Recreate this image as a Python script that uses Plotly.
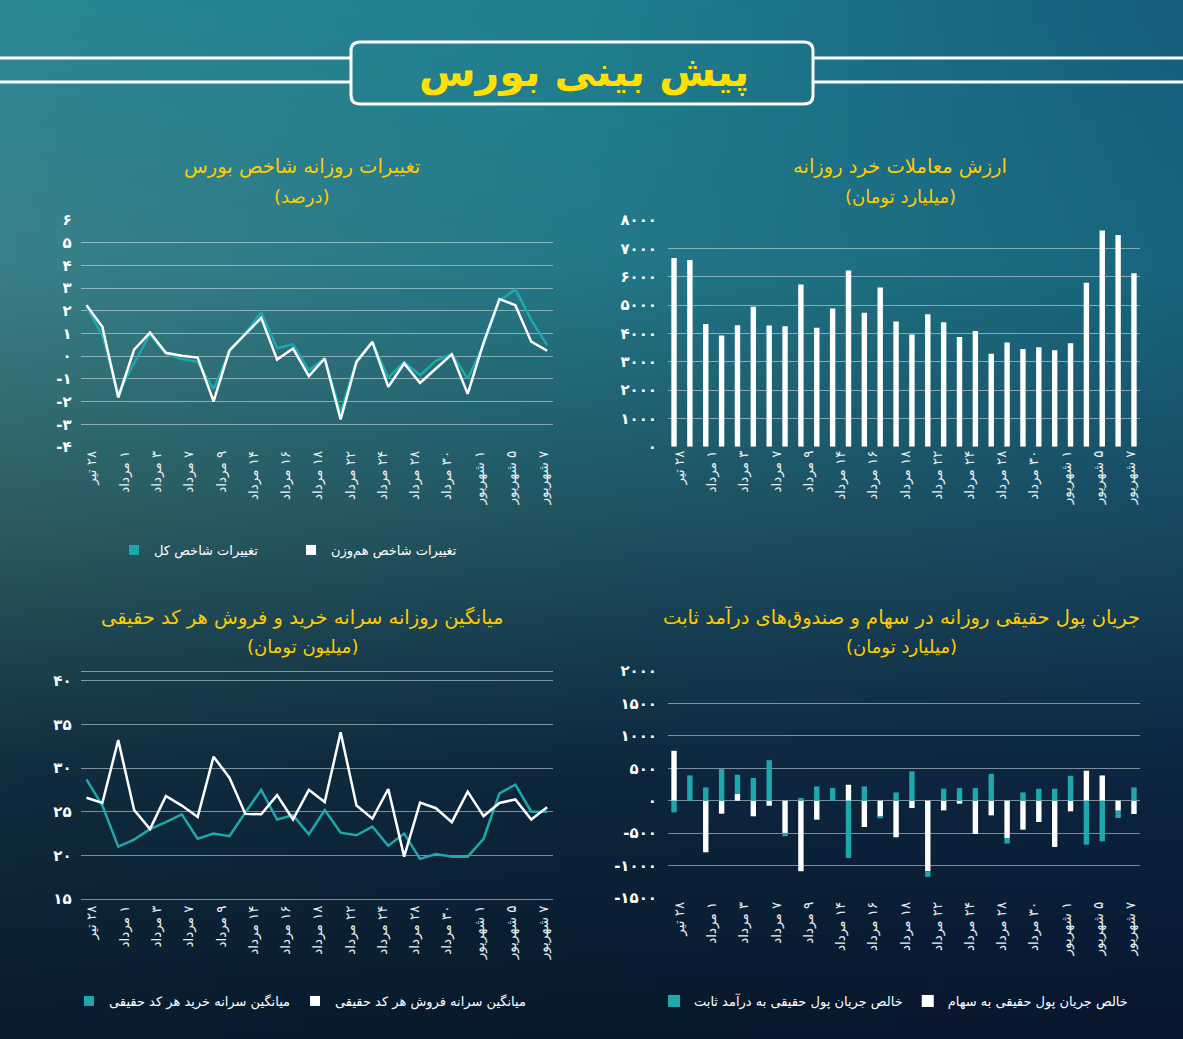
import base64
import struct
import zlib
import plotly.graph_objects as go

W, H = 1183, 1039
FONT = "DejaVu Sans"
TEAL = "#1FA8AC"
YELLOW = "#FFCB05"
GRID = "rgba(215,230,235,0.55)"

# ---------------- data ----------------
days = list(range(30))
tick_labels = ["۲۸ تیر", "۱ مرداد", "۳ مرداد", "۷ مرداد", "۹ مرداد", "۱۴ مرداد", "۱۶ مرداد",
               "۱۸ مرداد", "۲۲ مرداد", "۲۴ مرداد", "۲۸ مرداد", "۳۰ مرداد", "۱ شهریور",
               "۵ شهریور", "۷ شهریور"]

index_total = [2.18, 0.9, -1.65, -0.3, 0.95, 0.1, -0.12, -0.25, -1.45, 0.2, 1.0, 1.95, 0.35,
               0.53, -0.62, -0.1, -2.46, -0.2, 0.6, -0.94, -0.25, -0.84, -0.2, 0.1, -0.99,
               0.5, 2.45, 2.94, 1.6, 0.49]
index_equal = [2.25, 1.3, -1.82, 0.29, 1.04, 0.15, 0.02, -0.06, -1.99, 0.26, 0.97, 1.69, -0.15,
               0.34, -0.88, -0.1, -2.79, -0.25, 0.63, -1.35, -0.32, -1.18, -0.54, 0.08, -1.66,
               0.6, 2.52, 2.25, 0.64, 0.24]

retail_value = [6660, 6590, 4330, 3920, 4290, 4940, 4280, 4250, 5720, 4200, 4880, 6220, 4730,
                5620, 4420, 3960, 4670, 4390, 3870, 4080, 3280, 3680, 3450, 3510, 3400, 3650,
                5790, 7630, 7470, 6120]

buy_per_code = [28.7, 25.7, 21.0, 21.8, 23.0, 23.8, 24.7, 21.9, 22.5, 22.2, 24.9, 27.5, 24.1,
                24.6, 22.4, 25.2, 22.6, 22.3, 23.3, 21.1, 22.5, 19.6, 20.15, 19.85, 19.85, 21.9,
                27.1, 28.1, 25.0, 25.0]
sell_per_code = [26.6, 26.0, 33.2, 25.2, 23.0, 26.8, 25.7, 24.4, 31.3, 28.9, 24.75, 24.7, 26.9,
                 24.1, 27.5, 26.1, 34.1, 25.7, 24.2, 27.6, 19.85, 26.05, 25.4, 23.8, 27.3, 24.5,
                 26.0, 26.4, 24.1, 25.5]

flow_stocks = [770, 0, -795, -200, 108, -240, -77, -497, -1087, -292, 0, 246, -405, -250, -564,
               -113, -1087, -149, -46, -513, -226, -574, -446, -328, -713, -164, 462, 390, -154,
               -205]
flow_fixed = [-180, 390, 205, 487, 292, 350, 625, -51, 41, 220, 195, -882, 220, -20, 128, 451,
              -87, 185, 195, 195, 415, -87, 128, 185, 185, 385, -677, -626, -113, 205]

tl_ticks = [-4, -3, -2, -1, 0, 1, 2, 3, 4, 5, 6]
tr_ticks = [0, 1000, 2000, 3000, 4000, 5000, 6000, 7000, 8000]
bl_ticks = [15, 20, 25, 30, 35, 40]
br_ticks = [-1500, -1000, -500, 0, 500, 1000, 1500, 2000]

# ---------------- helpers ----------------
FA = str.maketrans("0123456789", "۰۱۲۳۴۵۶۷۸۹")


def fa(v):
    return str(v).translate(FA)


def rtl(s):
    return "\u202b" + s + "\u202c"


def xp(px):
    return px / W


def yp(py):
    return 1 - py / H


def hexrgb(h):
    h = h.lstrip("#")
    return tuple(int(h[i:i + 2], 16) for i in (0, 2, 4))


# background gradient picture (generated locally)
bg_rows_y = [0, 260, 520, 780, 1039]
bg_cols_x = [0, 590, 1183]
bg_grid = [
    ["#2A8794", "#1F7F8F", "#155E7C"],
    ["#3A8088", "#237888", "#17667E"],
    ["#2C5C60", "#1F5360", "#184A62"],
    ["#102C3E", "#0D263C", "#0C2440"],
    ["#0A1C2E", "#08182C", "#08162E"],
]


def interp(vals, pos, t):
    for k in range(len(pos) - 1):
        if pos[k] <= t <= pos[k + 1]:
            f = (t - pos[k]) / (pos[k + 1] - pos[k])
            return tuple(a + (b - a) * f for a, b in zip(vals[k], vals[k + 1]))
    return vals[-1]


def bg_pixel(px, py):
    cols = []
    for row in bg_grid:
        cols.append(interp([hexrgb(c) for c in row], bg_cols_x, px))
    c = interp(cols, bg_rows_y, py)
    return tuple(max(0, min(255, int(round(v)))) for v in c)


def make_png(w, h):
    raw = bytearray()
    for j in range(h):
        raw.append(0)
        for i in range(w):
            raw += bytes(bg_pixel(i * (W / (w - 1)), j * (H / (h - 1))))

    def chunk(t, d):
        c = struct.pack(">I", len(d)) + t + d
        return c + struct.pack(">I", zlib.crc32(t + d) & 0xFFFFFFFF)

    png = (b"\x89PNG\r\n\x1a\n"
           + chunk(b"IHDR", struct.pack(">IIBBBBB", w, h, 8, 2, 0, 0, 0))
           + chunk(b"IDAT", zlib.compress(bytes(raw), 9))
           + chunk(b"IEND", b""))
    return "data:image/png;base64," + base64.b64encode(png).decode()


bg_uri = make_png(120, 104)

# tick label positions across the category span
xtick_pos = [0.35 + i * (28.8 - 0.35) / 14 for i in range(len(tick_labels))]
xtick_txt = [rtl(t) for t in tick_labels]

fig = go.Figure()

# ---- top-left: index changes ----
fig.add_trace(go.Scatter(x=days, y=index_total, mode="lines", line=dict(color=TEAL, width=2.5),
                         xaxis="x", yaxis="y", showlegend=False, hoverinfo="skip"))
fig.add_trace(go.Scatter(x=days, y=index_equal, mode="lines", line=dict(color="white", width=2.5),
                         xaxis="x", yaxis="y", showlegend=False, hoverinfo="skip"))
fig.add_trace(go.Scatter(x=[None], y=[None], mode="markers", name="تغییرات شاخص کل",
                         marker=dict(symbol="square", size=10, color=TEAL), xaxis="x", yaxis="y",
                         legend="legend"))
fig.add_trace(go.Scatter(x=[None], y=[None], mode="markers", name="تغییرات شاخص هم‌وزن",
                         marker=dict(symbol="square", size=10, color="white"), xaxis="x", yaxis="y",
                         legend="legend"))

# ---- top-right: retail trade value ----
fig.add_trace(go.Bar(x=days, y=retail_value, marker=dict(color="white", line=dict(width=0)),
                     xaxis="x2", yaxis="y2", showlegend=False, hoverinfo="skip"))

# ---- bottom-left: per-code buy / sell ----
fig.add_trace(go.Scatter(x=days, y=buy_per_code, mode="lines", line=dict(color=TEAL, width=2.5),
                         xaxis="x3", yaxis="y3", showlegend=False, hoverinfo="skip"))
fig.add_trace(go.Scatter(x=days, y=sell_per_code, mode="lines", line=dict(color="white", width=2.5),
                         xaxis="x3", yaxis="y3", showlegend=False, hoverinfo="skip"))
fig.add_trace(go.Scatter(x=[None], y=[None], mode="markers", name="میانگین سرانه خرید هر کد حقیقی",
                         marker=dict(symbol="square", size=10, color=TEAL), xaxis="x3", yaxis="y3",
                         legend="legend2"))
fig.add_trace(go.Scatter(x=[None], y=[None], mode="markers", name="میانگین سرانه فروش هر کد حقیقی",
                         marker=dict(symbol="square", size=10, color="white"), xaxis="x3", yaxis="y3",
                         legend="legend2"))

# ---- bottom-right: real money flow ----
fig.add_trace(go.Bar(x=days, y=flow_stocks, name="خالص جریان پول حقیقی به سهام",
                     marker=dict(color="white", line=dict(width=0)), xaxis="x4", yaxis="y4",
                     legend="legend3", legendrank=2, hoverinfo="skip"))
fig.add_trace(go.Bar(x=days, y=flow_fixed, name="خالص جریان پول حقیقی به درآمد ثابت",
                     marker=dict(color=TEAL, line=dict(width=0)), xaxis="x4", yaxis="y4",
                     legend="legend3", legendrank=1, hoverinfo="skip"))

xcommon = dict(tickmode="array", tickvals=xtick_pos, ticktext=xtick_txt, tickangle=-90,
               showgrid=False, zeroline=False, showline=False, ticks="",
               tickfont=dict(family=FONT, size=13.5, color="#E6EEF0"), fixedrange=True)
ycommon = dict(tickmode="array", showgrid=True, gridcolor=GRID, gridwidth=1, zeroline=False,
               showline=False, ticks="", fixedrange=True,
               tickfont=dict(family=FONT, size=15, color="white", weight="bold"))

L_X = [xp(80.6), xp(553)]
R_X = [xp(668), xp(1140)]
LEGFONT = dict(family=FONT, size=13, color="white")

fig.update_layout(
    width=W, height=H,
    margin=dict(l=0, r=0, t=0, b=0, autoexpand=False),
    paper_bgcolor="#174F60",
    plot_bgcolor="rgba(0,0,0,0)",
    barmode="relative",
    bargap=0.66,
    font=dict(family=FONT, color="white"),
    xaxis=dict(domain=L_X, range=[-0.37, 29.37], anchor="y", **xcommon),
    yaxis=dict(domain=[yp(447), yp(220)], range=[-4, 6], anchor="x",
               tickvals=tl_ticks, ticktext=[fa(v) for v in tl_ticks], ticklabelstandoff=8,
               **ycommon),
    xaxis2=dict(domain=R_X, range=[-0.38, 29.38], anchor="y2", **xcommon),
    yaxis2=dict(domain=[yp(446.7), yp(220)], range=[0, 8000], anchor="x2",
                tickvals=tr_ticks, ticktext=[fa(v) for v in tr_ticks], ticklabelstandoff=10,
                **ycommon),
    xaxis3=dict(domain=L_X, range=[-0.37, 29.37], anchor="y3",
                **{**xcommon, "showline": True, "mirror": True, "linecolor": GRID, "linewidth": 1}),
    yaxis3=dict(domain=[yp(899), yp(672)], range=[15, 41], anchor="x3",
                tickvals=bl_ticks, ticktext=[fa(v) for v in bl_ticks], ticklabelstandoff=8,
                **ycommon),
    xaxis4=dict(domain=R_X, range=[-0.38, 29.38], anchor="y4", **xcommon),
    yaxis4=dict(domain=[yp(898), yp(671)], range=[-1500, 2000], anchor="x4",
                tickvals=br_ticks, ticktext=[fa(v) for v in br_ticks], ticklabelstandoff=10,
                **ycommon),
    legend=dict(orientation="h", x=xp(114), y=yp(535), xanchor="left", yanchor="top",
                bgcolor="rgba(0,0,0,0)", font=LEGFONT,
                entrywidth=132, itemclick=False, itemdoubleclick=False),
    legend2=dict(orientation="h", x=xp(69), y=yp(986), xanchor="left", yanchor="top",
                 bgcolor="rgba(0,0,0,0)", font=LEGFONT,
                 itemclick=False, itemdoubleclick=False),
    legend3=dict(orientation="h", x=xp(654), y=yp(986), xanchor="left", yanchor="top",
                 bgcolor="rgba(0,0,0,0)", font=LEGFONT,
                 itemclick=False, itemdoubleclick=False),
    images=[dict(source=bg_uri, xref="paper", yref="paper", x=0, y=1, sizex=1, sizey=1,
                 sizing="stretch", xanchor="left", yanchor="top", layer="below")],
)

# ---- header shapes ----
bx0, bx1, by0, by1, r = 351, 813, 42, 104, 9


def pt(x, y):
    return f"{xp(x):.5f},{yp(y):.5f}"


box_path = (f"M {pt(bx0 + r, by0)} L {pt(bx1 - r, by0)} Q {pt(bx1, by0)} {pt(bx1, by0 + r)} "
            f"L {pt(bx1, by1 - r)} Q {pt(bx1, by1)} {pt(bx1 - r, by1)} "
            f"L {pt(bx0 + r, by1)} Q {pt(bx0, by1)} {pt(bx0, by1 - r)} "
            f"L {pt(bx0, by0 + r)} Q {pt(bx0, by0)} {pt(bx0 + r, by0)} Z")
shapes = [dict(type="path", path=box_path, xref="paper", yref="paper",
               line=dict(color="white", width=3), fillcolor="rgba(0,0,0,0)")]
for yy in (58, 82):
    shapes.append(dict(type="line", xref="paper", yref="paper", x0=0, x1=xp(bx0 - 1),
                       y0=yp(yy), y1=yp(yy), line=dict(color="white", width=3)))
    shapes.append(dict(type="line", xref="paper", yref="paper", x0=xp(bx1 + 1), x1=1,
                       y0=yp(yy), y1=yp(yy), line=dict(color="white", width=3)))
fig.update_layout(shapes=shapes)

# ---- titles ----
ann = [dict(text=rtl("پیش بینی بورس"), x=xp(584), y=yp(73), xref="paper", yref="paper",
            showarrow=False, xanchor="center", yanchor="middle",
            font=dict(family=FONT, size=41, color="#FFE000", weight="bold"))]
titles = [
    ("تغییرات روزانه شاخص بورس", "(درصد)", 302, 167, 197),
    ("ارزش معاملات خرد روزانه", "(میلیارد تومان)", 900, 167, 197),
    ("میانگین روزانه سرانه خرید و فروش هر کد حقیقی", "(میلیون تومان)", 302, 617, 647),
    ("جریان پول حقیقی روزانه در سهام و صندوق‌های درآمد ثابت", "(میلیارد تومان)", 901, 617, 647),
]
for t, s, cx, ty, sy in titles:
    ann.append(dict(text=rtl(t), x=xp(cx), y=yp(ty), xref="paper", yref="paper",
                    showarrow=False, xanchor="center", yanchor="middle",
                    font=dict(family=FONT, size=19.5, color=YELLOW)))
    ann.append(dict(text=rtl(s), x=xp(cx), y=yp(sy), xref="paper", yref="paper",
                    showarrow=False, xanchor="center", yanchor="middle",
                    font=dict(family=FONT, size=18, color=YELLOW)))
fig.update_layout(annotations=ann)

fig.write_html("out.html")
